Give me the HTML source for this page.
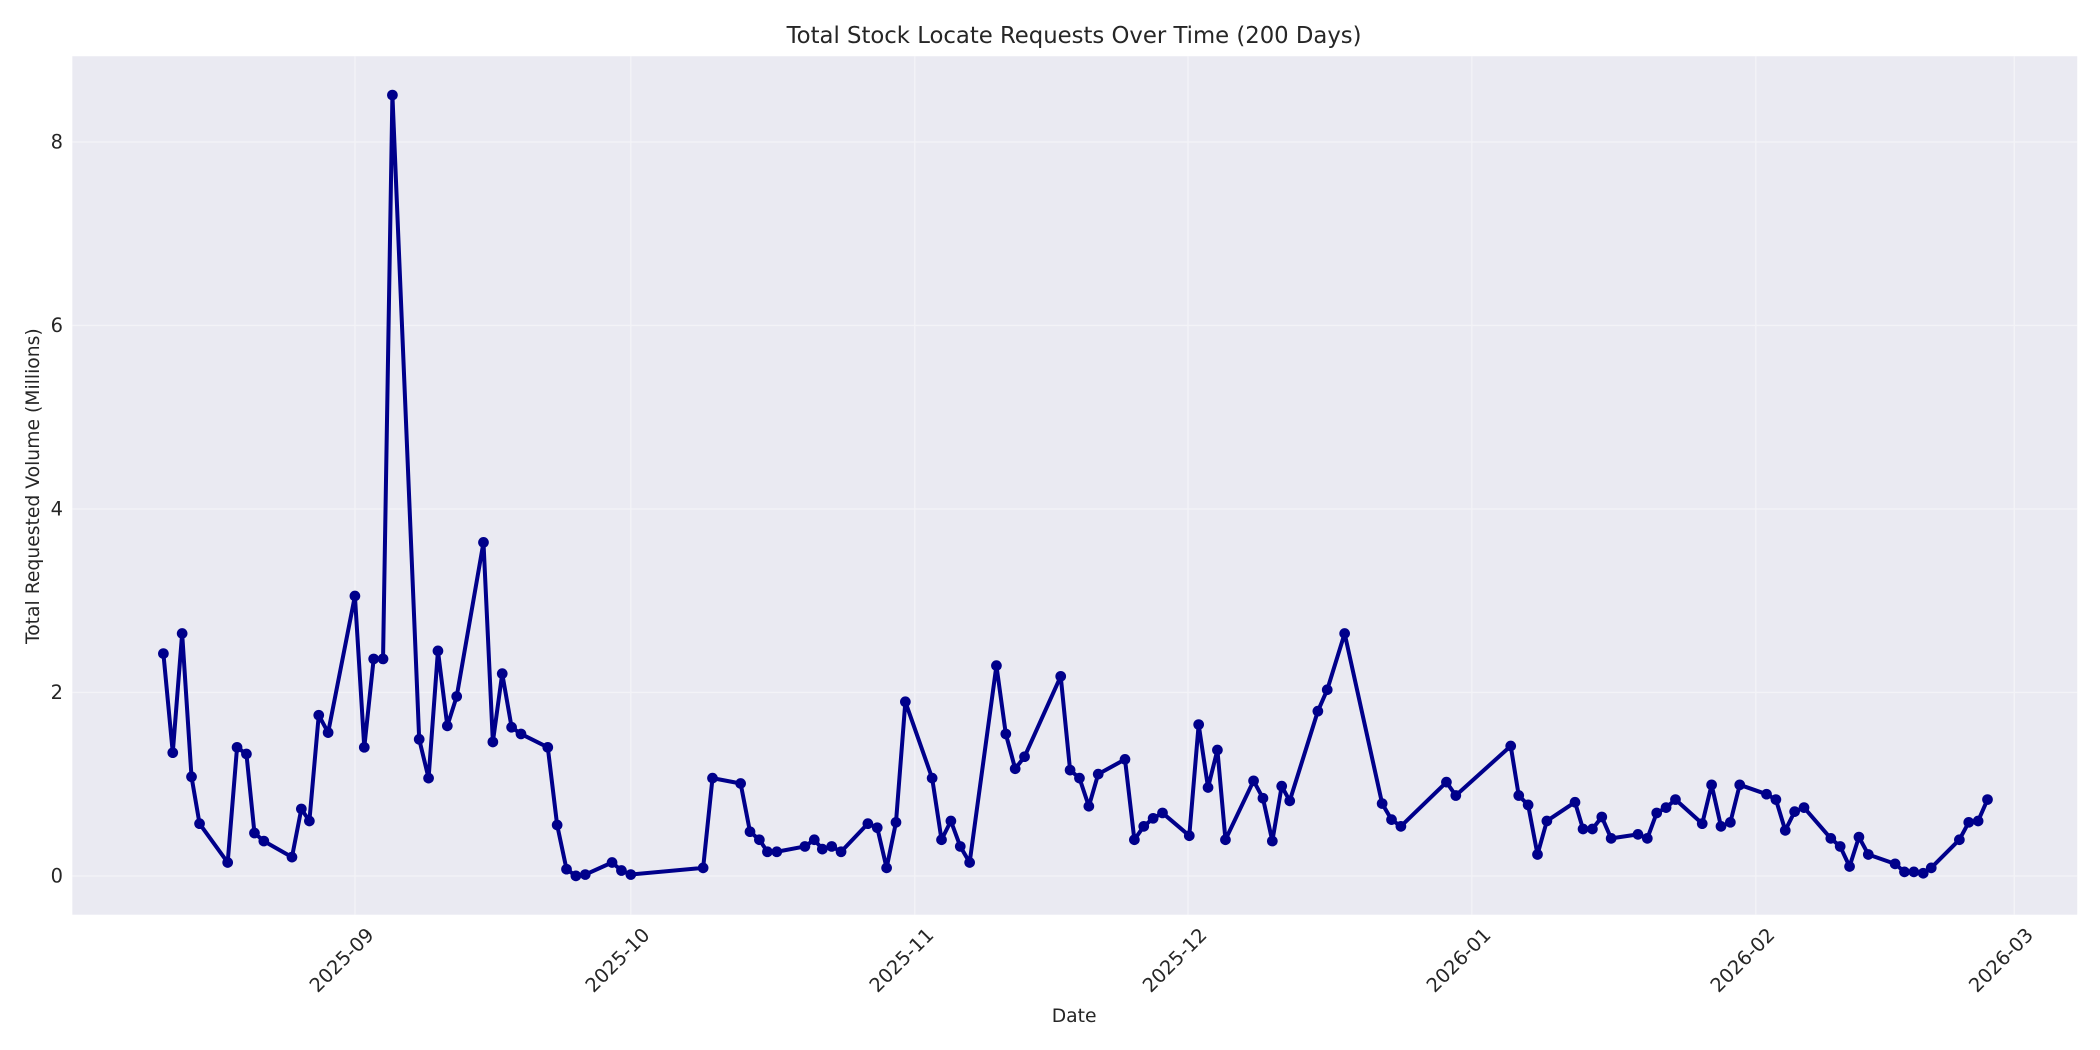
<!DOCTYPE html>
<html><head><meta charset="utf-8"><style>html,body{margin:0;padding:0;background:#fff}svg{display:block}</style></head>
<body>
<svg width="2100" height="1050" viewBox="0 0 1568 784" xmlns="http://www.w3.org/2000/svg" font-family="'DejaVu Sans','Liberation Sans',sans-serif">
<rect x="0" y="0" width="1568" height="784" fill="#fff"/>
<rect x="54" y="42" width="1497" height="641" fill="#EAEAF2"/>
<g stroke="#fff" stroke-width="1" opacity="0.45">
<line x1="265" y1="42" x2="265" y2="683"/><line x1="471" y1="42" x2="471" y2="683"/><line x1="683" y1="42" x2="683" y2="683"/><line x1="887" y1="42" x2="887" y2="683"/><line x1="1099" y1="42" x2="1099" y2="683"/><line x1="1311" y1="42" x2="1311" y2="683"/><line x1="1504" y1="42" x2="1504" y2="683"/>
<line x1="54" y1="654" x2="1551" y2="654"/><line x1="54" y1="517" x2="1551" y2="517"/><line x1="54" y1="380" x2="1551" y2="380"/><line x1="54" y1="243" x2="1551" y2="243"/><line x1="54" y1="106" x2="1551" y2="106"/>
</g>
<g font-size="14.5" fill="#262626" text-anchor="end">
<text x="47" y="659">0</text><text x="47" y="522">2</text><text x="47" y="385">4</text><text x="47" y="248">6</text><text x="47" y="111">8</text>
</g>
<g font-size="14.5" fill="#262626" text-anchor="end">
<text transform="translate(280,699) rotate(-45)">2025-09</text>
<text transform="translate(486,699) rotate(-45)">2025-10</text>
<text transform="translate(698,699) rotate(-45)">2025-11</text>
<text transform="translate(902,699) rotate(-45)">2025-12</text>
<text transform="translate(1114,699) rotate(-45)">2026-01</text>
<text transform="translate(1326,699) rotate(-45)">2026-02</text>
<text transform="translate(1519,699) rotate(-45)">2026-03</text>
</g>
<text x="802" y="32" font-size="17" fill="#262626" text-anchor="middle">Total Stock Locate Requests Over Time (200 Days)</text>
<text x="802" y="763" font-size="14" fill="#262626" text-anchor="middle">Date</text>
<text transform="translate(29,363) rotate(-90)" font-size="14" fill="#262626" text-anchor="middle">Total Requested Volume (Millions)</text>
<g id="s">
<polyline fill="none" stroke="#00008B" stroke-width="3" stroke-linejoin="round" points="122,488 129,562 136,473 143,580 149,615 170,644 177,558 184,563 190,622 197,628 218,640 225,604 231,613 238,534 245,547 265,445 272,558 279,492 286,492 293,71 313,552 320,581 327,486 334,542 341,520 361,405 368,554 375,503 382,543 389,548 409,558 416,616 423,649 430,654 437,653 457,644 464,650 471,653 525,648 532,581 553,585 560,621 567,627 573,636 580,636 601,632 608,627 614,634 621,632 628,636 648,615 655,618 662,648 669,614 676,524 696,581 703,627 710,613 717,632 724,644 744,497 751,548 758,574 765,565 792,505 799,575 806,581 813,602 820,578 840,567 847,627 854,617 861,611 868,607 888,624 895,541 902,588 909,560 915,627 936,583 943,596 950,628 957,587 963,598 984,531 991,515 1004,473 1032,600 1039,612 1046,617 1080,584 1087,594 1128,557 1134,594 1141,601 1148,638 1155,613 1176,599 1182,619 1189,619 1196,610 1203,626 1223,623 1230,626 1237,607 1244,603 1251,597 1271,615 1278,586 1285,617 1292,614 1299,586 1319,593 1326,597 1333,620 1340,606 1347,603 1367,626 1374,632 1381,647 1388,625 1395,638 1415,645 1422,651 1429,651 1436,652 1442,648 1463,627 1470,614 1477,613 1484,597"/>
</g>
<g fill="#00008B" id="m"></g>
<script>
var pts=document.querySelector('#s polyline').getAttribute('points').trim().split(/\s+/);
var g=document.getElementById('m'),ns='http://www.w3.org/2000/svg';
pts.forEach(function(p){var a=p.split(',');var c=document.createElementNS(ns,'circle');c.setAttribute('cx',a[0]);c.setAttribute('cy',a[1]);c.setAttribute('r','4');g.appendChild(c);});
</script>
</svg>
</body></html>
